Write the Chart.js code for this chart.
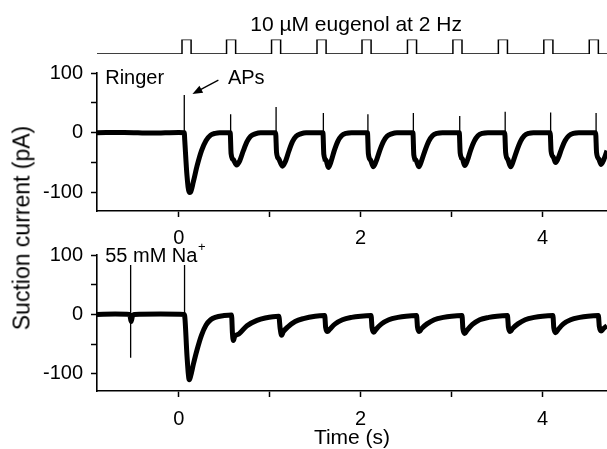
<!DOCTYPE html>
<html>
<head>
<meta charset="utf-8">
<script src="https://cdn.jsdelivr.net/npm/chart.js@4.4.1/dist/chart.umd.min.js"></script>
<style>
  html, body { margin: 0; padding: 0; background: #fff; }
  #wrap { position: relative; width: 607px; height: 449px; overflow: hidden; }
  #wrap canvas { position: absolute; left: 0; top: 0; }
  #ytitle {
    position: absolute; left: 22px; top: 228px;
    transform: translate(-50%, -50%) rotate(-90deg);
    font: 23px "Liberation Sans", Arial, sans-serif; white-space: nowrap;
  }
</style>
</head>
<body>
<div id="wrap">
  <canvas id="stim" width="607" height="449"></canvas>
  <canvas id="ringer" width="607" height="449"></canvas>
  <canvas id="sodium" width="607" height="449"></canvas>
  <div id="ytitle">Suction current (pA)</div>
</div>
<script>
// eugenol pulses (s)
const stimOn  = [0.035, 0.525, 1.02, 1.52, 2.015, 2.515, 3.015, 3.515, 4.015, 4.515];
const stimOff = [0.135, 0.625, 1.12, 1.62, 2.115, 2.615, 3.115, 3.615, 4.115, 4.615];

// Ringer trace (s, pA)
const ringerT = [-0.9, -0.6, -0.3, 0.0, 0.06,
  0.065, 0.09, 0.115, 0.13, 0.16, 0.2, 0.25, 0.3, 0.35, 0.4, 0.45, 0.565,
  0.575, 0.6, 0.635, 0.67, 0.71, 0.75, 0.79, 0.84, 0.9, 1.065,
  1.075, 1.1, 1.14, 1.17, 1.21, 1.25, 1.29, 1.34, 1.4, 1.585,
  1.595, 1.62, 1.645, 1.675, 1.71, 1.75, 1.79, 1.84, 1.9, 2.075,
  2.085, 2.11, 2.14, 2.17, 2.21, 2.25, 2.29, 2.34, 2.4, 2.575,
  2.585, 2.61, 2.64, 2.67, 2.71, 2.75, 2.79, 2.84, 2.9, 3.085,
  3.095, 3.12, 3.145, 3.175, 3.21, 3.25, 3.29, 3.34, 3.4, 3.585,
  3.595, 3.62, 3.65, 3.68, 3.72, 3.76, 3.8, 3.85, 3.9, 4.085,
  4.095, 4.12, 4.145, 4.175, 4.21, 4.25, 4.29, 4.34, 4.4, 4.585,
  4.595, 4.62, 4.645, 4.675, 4.71];
const ringerI = [0, 0.5, -0.5, 0.5, 0,
  -12, -72, -100, -99, -82, -56, -30, -13, -4, -1, 0, 0,
  -35, -45, -54, -47, -30, -15, -6, -2, 0, 0,
  -33, -44, -56, -49, -31, -15, -6, -2, 0, 0,
  -36, -46, -58, -48, -30, -14, -5, -1, 0, 0,
  -35, -46, -57, -48, -30, -15, -6, -2, 0, 0,
  -37, -46, -57, -47, -29, -14, -5, -1, 0, 0,
  -34, -44, -55, -46, -29, -14, -5, -1, 0, 0,
  -33, -45, -57, -47, -29, -14, -5, -1, 0, 0,
  -31, -41, -50, -42, -27, -13, -5, -1, 0, 0,
  -33, -44, -53, -45, -30];
// action potential spikes
const ringerSpikeT   = [0.06, 0.57, 1.07, 1.59, 2.08, 2.58, 3.09, 3.59, 4.09, 4.59];
const ringerSpikeTop = [63, 31, 43, 33, 31, 33, 28, 35, 34, 33];
const ringerSpikeLow = [-10, -46, -37, -48, -45, -48, -45, -42, -40, -42];

// 55 mM Na+ trace (s, pA)
const sodiumT = [-0.9, -0.7, -0.54, -0.525, -0.51, -0.49, -0.2, 0.06,
  0.068, 0.09, 0.115, 0.13, 0.16, 0.2, 0.25, 0.3, 0.35, 0.4, 0.5, 0.58,
  0.59, 0.6, 0.615, 0.66, 0.75, 0.86, 0.95, 1.1,
  1.115, 1.13, 1.15, 1.2, 1.28, 1.37, 1.5, 1.605,
  1.615, 1.635, 1.66, 1.72, 1.8, 1.9, 2.0, 2.115,
  2.125, 2.145, 2.17, 2.23, 2.31, 2.41, 2.5, 2.615,
  2.625, 2.645, 2.67, 2.73, 2.81, 2.91, 3.0, 3.115,
  3.125, 3.145, 3.17, 3.23, 3.31, 3.41, 3.5, 3.615,
  3.625, 3.645, 3.67, 3.73, 3.81, 3.91, 4.0, 4.115,
  4.125, 4.145, 4.17, 4.23, 4.31, 4.41, 4.5, 4.615,
  4.625, 4.645, 4.67, 4.71];
const sodiumI = [0, 0.5, 0, -12, -3, 0, 0.5, 0,
  -8, -70, -110, -104, -84, -60, -35, -18, -9, -5, -2, -1,
  -32, -44, -37, -33, -19, -10, -6, -3,
  -24, -35, -29, -21, -12, -7, -3, -2,
  -22, -29, -25, -16, -9, -5, -3, -2,
  -22, -30, -25, -16, -9, -5, -3, -2,
  -21, -29, -24, -16, -9, -5, -3, -2,
  -24, -32, -27, -17, -9, -5, -3, -2,
  -21, -29, -24, -16, -9, -5, -3, -2,
  -23, -31, -26, -16, -9, -5, -3, -2,
  -20, -28, -24, -19];
const sodiumSpikeT   = [-0.53, 0.063];
const sodiumSpikeTop = [83, 83];
const sodiumSpikeLow = [-73, 0];

const xTicks = [0, 2, 4];
const yTicks = [-100, 0, 100];

const FONT = '"Liberation Sans", Arial, sans-serif';
const X_MIN = -0.9, X_MAX = 4.71;

function pts(xs, ys) {
  return xs.map((x, i) => ({ x: x, y: ys[i] }));
}
function spikes(ts, tops, lows) {
  const out = [];
  ts.forEach((t, i) => {
    out.push({ x: t, y: tops[i] }, { x: t, y: lows[i] }, { x: t, y: null });
  });
  return out;
}

// text + arrow notes drawn in data coordinates
const notesPlugin = {
  id: 'notes',
  afterDatasetsDraw(chart, args, opts) {
    const ctx = chart.ctx, xs = chart.scales.x, ys = chart.scales.y;
    ctx.save();
    ctx.fillStyle = '#000';
    ctx.strokeStyle = '#000';
    ctx.textBaseline = 'middle';
    (opts.items || []).forEach(n => {
      ctx.font = (n.size || 20) + 'px ' + FONT;
      ctx.textAlign = n.align || 'left';
      ctx.fillText(n.text, xs.getPixelForValue(n.x), ys.getPixelForValue(n.y));
    });
    (opts.arrows || []).forEach(a => {
      const x1 = xs.getPixelForValue(a.x1), y1 = ys.getPixelForValue(a.y1);
      const x2 = xs.getPixelForValue(a.x2), y2 = ys.getPixelForValue(a.y2);
      const ang = Math.atan2(y2 - y1, x2 - x1);
      ctx.lineWidth = 1.3;
      ctx.beginPath();
      ctx.moveTo(x1, y1);
      ctx.lineTo(x2 - 8 * Math.cos(ang), y2 - 8 * Math.sin(ang));
      ctx.stroke();
      ctx.beginPath();
      ctx.moveTo(x2, y2);
      ctx.lineTo(x2 - 10 * Math.cos(ang) + 4 * Math.sin(ang), y2 - 10 * Math.sin(ang) - 4 * Math.cos(ang));
      ctx.lineTo(x2 - 10 * Math.cos(ang) - 4 * Math.sin(ang), y2 - 10 * Math.sin(ang) + 4 * Math.cos(ang));
      ctx.closePath();
      ctx.fill();
    });
    ctx.restore();
  }
};

function xAxis(height, pad, title) {
  return {
    type: 'linear', min: X_MIN, max: X_MAX,
    border: { display: true, color: '#000', width: 1.6 },
    grid: { display: true, drawOnChartArea: false, drawTicks: true, tickLength: 6, tickColor: '#000', tickWidth: 1.5 },
    ticks: {
      stepSize: 1, includeBounds: false, maxRotation: 0, autoSkip: false,
      color: '#000', padding: pad, font: { family: FONT, size: 20 },
      callback: v => xTicks.includes(v) ? String(v) : ''
    },
    title: title ? { display: true, text: title, color: '#000', padding: 0,
      font: { family: FONT, size: 21, lineHeight: 1 } } : { display: false },
    afterFit(s) { s.height = height; }
  };
}
function yAxis(min) {
  return {
    type: 'linear', min: min, max: 100,
    border: { display: true, color: '#000', width: 1.6 },
    grid: { display: true, drawOnChartArea: false, drawTicks: true, tickLength: 6, tickColor: '#000', tickWidth: 1.5 },
    ticks: {
      stepSize: 50, includeBounds: false, autoSkip: false,
      color: '#000', padding: 8, font: { family: FONT, size: 20 },
      callback: v => yTicks.includes(v) ? String(v) : ''
    },
    afterFit(s) { s.width = 60; }
  };
}
function traceSets(band, spk) {
  return [
    { data: band, borderColor: '#000', borderWidth: 5, pointRadius: 0,
      cubicInterpolationMode: 'monotone', borderJoinStyle: 'round' },
    { data: spk, borderColor: '#000', borderWidth: 1.3, pointRadius: 0, spanGaps: false }
  ];
}
const base = {
  responsive: false, animation: false, parsing: true,
  events: []
};

// stimulus
const stimPts = [{ x: X_MIN, y: 0 }];
stimOn.forEach((t, i) => {
  stimPts.push({ x: t, y: 0 }, { x: t, y: 1 }, { x: stimOff[i], y: 1 }, { x: stimOff[i], y: 0 });
});
stimPts.push({ x: X_MAX, y: 0 });

new Chart(document.getElementById('stim'), {
  type: 'line',
  data: { datasets: [{ data: stimPts, borderColor: '#000', borderWidth: 1.5, pointRadius: 0 }] },
  options: Object.assign({}, base, {
    layout: { padding: { left: 97, right: 0, top: 39.5, bottom: 449 - 54 } },
    scales: {
      x: { type: 'linear', min: X_MIN, max: X_MAX, display: false },
      y: { type: 'linear', min: 0, max: 1, display: false }
    },
    plugins: {
      legend: { display: false }, tooltip: { enabled: false },
      notes: { items: [{ x: 1.95, y: 2.0, text: '10 \u00B5M eugenol at 2 Hz', align: 'center', size: 21 }] }
    }
  }),
  plugins: [notesPlugin]
});

new Chart(document.getElementById('ringer'), {
  type: 'line',
  data: { datasets: traceSets(pts(ringerT, ringerI), spikes(ringerSpikeT, ringerSpikeTop, ringerSpikeLow)) },
  options: Object.assign({}, base, {
    layout: { padding: { left: 37, right: 0, top: 73, bottom: 449 - 211 - 40 } },
    scales: { x: xAxis(40, 9), y: yAxis(-131) },
    plugins: {
      legend: { display: false }, tooltip: { enabled: false },
      notes: {
        items: [
          { x: -0.81, y: 91, text: 'Ringer' },
          { x: 0.54, y: 91, text: 'APs' }
        ],
        arrows: [{ x1: 0.435, y1: 88, x2: 0.15, y2: 65 }]
      }
    }
  }),
  plugins: [notesPlugin]
});

new Chart(document.getElementById('sodium'), {
  type: 'line',
  data: { datasets: traceSets(pts(sodiumT, sodiumI), spikes(sodiumSpikeT, sodiumSpikeTop, sodiumSpikeLow)) },
  options: Object.assign({}, base, {
    layout: { padding: { left: 37, right: 0, top: 255, bottom: 0 } },
    scales: { x: xAxis(58, 10, 'Time (s)'), y: yAxis(-129) },
    plugins: {
      legend: { display: false }, tooltip: { enabled: false },
      notes: {
        items: [
          { x: -0.81, y: 98, text: '55 mM Na' },
          { x: 0.21, y: 112, text: '+', size: 13 }
        ]
      }
    }
  }),
  plugins: [notesPlugin]
});
</script>
</body>
</html>
